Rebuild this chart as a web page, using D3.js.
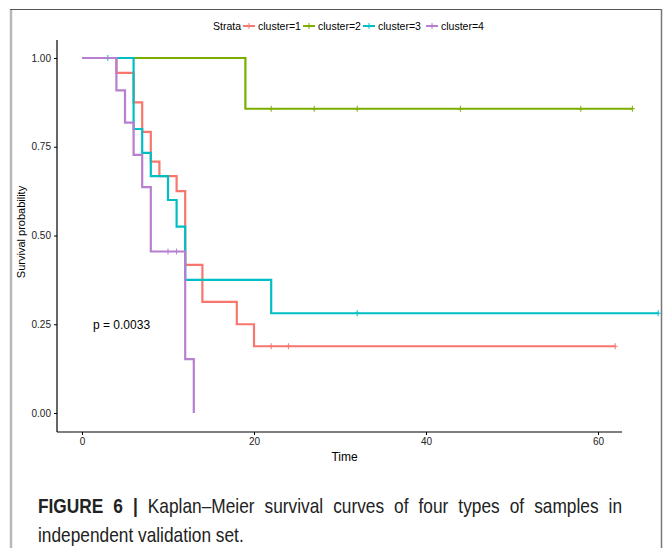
<!DOCTYPE html>
<html>
<head>
<meta charset="utf-8">
<script src="https://cdn.jsdelivr.net/npm/d3@7"></script>
<style>
  body { margin: 0; background: #fff; }
  svg text { font-family: "Liberation Sans", Arial, sans-serif; }
</style>
</head>
<body>
<div id="chart"></div>
<script>
// strata and colours
const strata = ["cluster=1", "cluster=2", "cluster=3", "cluster=4"];
const colors = ["#F8766D", "#7CAE00", "#00BFC4", "#B87FD0"];

// step times and survival estimates
const times1 = [0, 4, 6, 7, 8, 9, 11, 12, 14, 18, 20, 62];
const surv1 = [1, 0.958, 0.875, 0.792, 0.708, 0.667, 0.625, 0.417, 0.313, 0.25, 0.188, 0.188];
const censor1 = [22, 24, 62];

const times2 = [0, 19, 64];
const surv2 = [1, 0.857, 0.857];
const censor2 = [22, 27, 32, 44, 58, 64];

const times3 = [0, 6, 7, 8, 10, 11, 12, 22, 67];
const surv3 = [1, 0.8, 0.733, 0.667, 0.6, 0.525, 0.375, 0.281, 0.281];
const censor3 = [3, 32, 67];

const times4 = [0, 4, 5, 6, 7, 8, 12, 13];
const surv4 = [1, 0.909, 0.818, 0.727, 0.636, 0.455, 0.152, 0];
const censor4 = [10, 11];

const xTicks = [0, 20, 40, 60];
const yTicks = [0, 0.25, 0.5, 0.75, 1];
const pValue = "p = 0.0033";

const curves = [
    {times: times1, surv: surv1, censor: censor1},
    {times: times2, surv: surv2, censor: censor2},
    {times: times3, surv: surv3, censor: censor3},
    {times: times4, surv: surv4, censor: censor4}
];

const width = 664, height = 548;

const svg = d3.select("#chart").append("svg")
    .attr("width", width).attr("height", height);

// figure frame
svg.append("line").attr("x1", 11).attr("x2", 11).attr("y1", 9).attr("y2", height)
    .attr("stroke", "#b8b8b8").attr("stroke-width", 2.5);
svg.append("line").attr("x1", 10).attr("x2", 662).attr("y1", 9.5).attr("y2", 9.5)
    .attr("stroke", "#555").attr("stroke-width", 1.2);
svg.append("line").attr("x1", 661.5).attr("x2", 661.5).attr("y1", 9).attr("y2", height)
    .attr("stroke", "#777").attr("stroke-width", 1.5);

const x = d3.scaleLinear().domain([0, 60]).range([82, 598]);
const y = d3.scaleLinear().domain([0, 1]).range([413, 58]);

const axisLeft = 57, axisBottom = 432, axisTop = 40, axisRight = 622;

// axes
const yAxis = svg.append("g").attr("transform", `translate(${axisLeft},0)`)
    .call(d3.axisLeft(y).tickValues(yTicks).tickFormat(d3.format(".2f")).tickSize(3).tickPadding(3));
yAxis.select(".domain").attr("d", `M0,${axisTop}V${axisBottom}`).attr("stroke-width", 1.2);

const xAxis = svg.append("g").attr("transform", `translate(0,${axisBottom})`)
    .call(d3.axisBottom(x).tickValues(xTicks).tickSize(3).tickPadding(3));
xAxis.select(".domain").attr("d", `M${axisLeft},0H${axisRight}`).attr("stroke-width", 1.2);

svg.selectAll(".tick text").attr("font-size", 10).attr("fill", "#222")
    .style("font-family", "'Liberation Sans', Arial, sans-serif");

svg.append("text").attr("x", (axisLeft + axisRight) / 2 + 5).attr("y", 461)
    .attr("text-anchor", "middle").attr("font-size", 12).text("Time");

svg.append("text").attr("transform", `translate(25,${(axisTop + axisBottom) / 2 - 4}) rotate(-90)`)
    .attr("text-anchor", "middle").attr("font-size", 11).text("Survival probability");

// survival curves, strata order so cluster=4 ends on top
const line = d3.line().x(d => x(d[0])).y(d => y(d[1])).curve(d3.curveStepAfter);

curves.forEach((c, i) => {
    const pts = c.times.map((t, j) => [t, c.surv[j]]);
    svg.append("path").attr("d", line(pts))
        .attr("fill", "none").attr("stroke", colors[i]).attr("stroke-width", 2.2);

    // censor marks
    const survAt = t => {
        let s = 1;
        c.times.forEach((tt, j) => { if (tt <= t) s = c.surv[j]; });
        return s;
    };
    svg.selectAll(null).data(c.censor).join("path")
        .attr("d", t => `M${x(t)},${y(survAt(t)) - 3}v6M${x(t) - 2.5},${y(survAt(t))}h5`)
        .attr("stroke", colors[i]).attr("stroke-width", 1);
});

svg.append("text").attr("x", 93).attr("y", 329).attr("font-size", 12).text(pValue);

// legend
const legend = svg.append("g").attr("transform", "translate(0,30)");
legend.append("text").attr("x", 213).attr("y", 0).attr("font-size", 10.5).text("Strata");
const legX = [249, 309, 369, 432];
strata.forEach((s, i) => {
    const g = legend.append("g").attr("transform", `translate(${legX[i]},-4)`);
    g.append("path").attr("d", "M-6,0h12").attr("stroke", colors[i]).attr("stroke-width", 2);
    g.append("path").attr("d", "M0,-3v6").attr("stroke", colors[i]).attr("stroke-width", 1);
    g.append("text").attr("x", 9).attr("y", 4).attr("font-size", 10.5).text(s);
});

// caption, squeezed horizontally to look like the condensed journal font
const capScale = 0.865;
const capG = svg.append("g").attr("transform", `translate(38,0) scale(${capScale},1)`)
    .style("font-family", "'Liberation Sans', Arial, sans-serif").attr("fill", "#222");
const cap = capG.append("text").attr("x", 0).attr("y", 513).attr("font-size", 20);
cap.append("tspan").attr("font-weight", "bold").text("FIGURE 6 | ");
cap.append("tspan").text("Kaplan\u2013Meier survival curves of four types of samples in");
capG.append("text").attr("x", 0).attr("y", 542).attr("font-size", 20)
    .text("independent validation set.");

// first line is justified to the right margin
const target = (622 - 38) / capScale;
const w = cap.node().getComputedTextLength();
const nSpaces = (cap.text().match(/ /g) || []).length;
cap.attr("word-spacing", Math.max(0, (target - w) / nSpaces));
</script>
</body>
</html>
